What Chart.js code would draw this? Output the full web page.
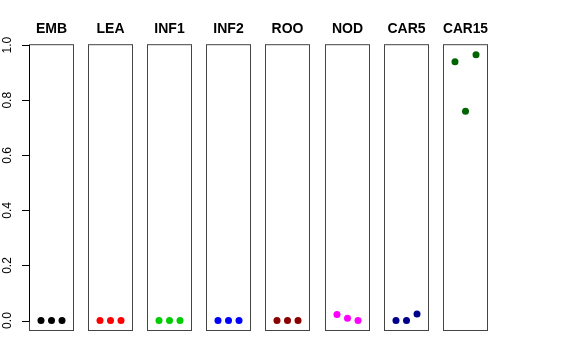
<!DOCTYPE html>
<html>
<head>
<meta charset="utf-8">
<script src="https://cdn.jsdelivr.net/npm/chart.js@4/dist/chart.umd.min.js"></script>
<style>
  body { margin: 0; background: #fff; }
  #wrap { position: relative; width: 576px; height: 360px; }
  #wrap canvas { position: absolute; top: 0; }
</style>
</head>
<body>
<div id="wrap"></div>
<script>
const categories = ["EMB", "LEA", "INF1", "INF2", "ROO", "NOD", "CAR5", "CAR15"];
const colors = ["#000000", "#FF0000", "#00CD00", "#0000FF", "#8B0000", "#FF00FF", "#00008B", "#006400"];
const xIndex = [1, 2, 3];
const values = [
  [0, 0, 0],
  [0, 0, 0],
  [0, 0, 0],
  [0, 0, 0],
  [0, 0, 0],
  [0.022, 0.008, 0],
  [0, 0, 0.024],
  [0.94, 0.76, 0.965],
];
const yTicks = [0, 0.2, 0.4, 0.6, 0.8, 1.0];

Chart.defaults.font.family = "'Liberation Sans', Arial, sans-serif";
Chart.defaults.color = "#000";

const framePlugin = {
  id: "frame",
  beforeDatasetsDraw(chart, args, opts) {
    const { ctx, chartArea: a, scales } = chart;
    ctx.save();
    ctx.strokeStyle = "#444";
    ctx.lineWidth = 1;
    ctx.strokeRect(a.left + 0.5, a.top + 0.5, a.right - a.left - 1, a.bottom - a.top - 1);
    if (opts.axis) {
      const y = scales.y;
      const x0 = a.left + 0.5;
      ctx.strokeStyle = "#000";
      ctx.beginPath();
      ctx.moveTo(x0, Math.round(y.getPixelForValue(yTicks[0])) + 0.5);
      ctx.lineTo(x0, Math.round(y.getPixelForValue(yTicks[yTicks.length - 1])) + 0.5);
      yTicks.forEach((t) => {
        const py = Math.round(y.getPixelForValue(t)) + 0.5;
        ctx.moveTo(a.left - 7, py);
        ctx.lineTo(x0, py);
      });
      ctx.stroke();
      ctx.fillStyle = "#000";
      ctx.font = "12px 'Liberation Sans', Arial, sans-serif";
      ctx.textAlign = "center";
      ctx.textBaseline = "middle";
      yTicks.forEach((t) => {
        const py = y.getPixelForValue(t);
        ctx.save();
        ctx.translate(8, py);
        ctx.rotate(-Math.PI / 2);
        ctx.fillText(t.toFixed(1), 0, 0);
        ctx.restore();
      });
    }
    ctx.restore();
  },
};

const wrap = document.getElementById("wrap");

categories.forEach((name, i) => {
  const axis = i === 0;
  const padLeft = axis ? 29 : 7;
  const padRight = axis ? 0 : 7;
  const canvas = document.createElement("canvas");
  canvas.width = 45 + padLeft + padRight;
  canvas.height = 340;
  canvas.style.left = (29 + Math.round(59.1 * i) - padLeft) + "px";
  wrap.appendChild(canvas);

  new Chart(canvas.getContext("2d"), {
    type: "scatter",
    data: {
      datasets: [
        {
          data: xIndex.map((x, k) => ({ x: x, y: values[i][k] })),
          backgroundColor: colors[i],
          borderWidth: 0,
          pointRadius: 3.5,
        },
      ],
    },
    options: {
      responsive: false,
      animation: false,
      layout: {
        autoPadding: false,
        padding: { left: padLeft, right: padRight, top: 0, bottom: 9 },
      },
      scales: {
        x: { type: "linear", display: false, min: -0.14, max: 4.14 },
        y: { type: "linear", display: false, min: -0.038, max: 1.0036 },
      },
      plugins: {
        legend: { display: false },
        tooltip: { enabled: false },
        title: {
          display: true,
          text: name,
          fullSize: !axis,
          font: { size: 14, weight: "bold" },
          padding: { top: 21, bottom: 6.4 },
        },
        frame: { axis: axis },
      },
    },
    plugins: [framePlugin],
  });
});
</script>
</body>
</html>
